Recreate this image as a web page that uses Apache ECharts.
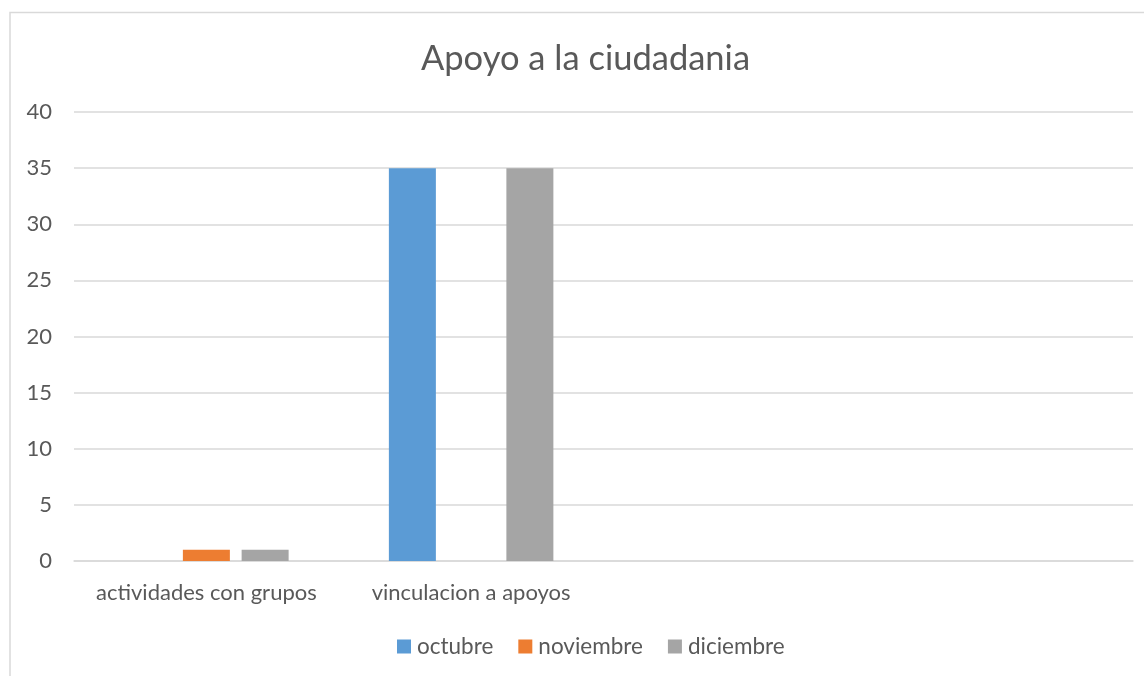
<!DOCTYPE html>
<html lang="es">
<head>
<meta charset="UTF-8">
<title>Apoyo a la ciudadania</title>
<script src="https://cdn.jsdelivr.net/npm/echarts@6/dist/echarts.min.js"></script>
<style>
html, body { margin: 0; padding: 0; background: #ffffff; }
#chart { width: 1144px; height: 676px; }
</style>
</head>
<body>
<div id="chart"></div>
<script>
// data
const categories = ['actividades con grupos', 'vinculacion a apoyos', '', ''];
const octubre = [0, 35, null, null];
const noviembre = [1, 0, null, null];
const diciembre = [1, 35, null, null];
const yTicks = [0, 5, 10, 15, 20, 25, 30, 35, 40];

const font = 'Lato';
const textColor = '#595959';
const lineColor = '#d9d9d9';

const chart = echarts.init(document.getElementById('chart'));

function barSeries(name, data, color) {
return {
name: name,
type: 'bar',
data: data,
barWidth: 47,
barGap: '25%',
itemStyle: { color: color }
};
}

chart.setOption({
animation: false,
backgroundColor: '#ffffff',
graphic: [{
type: 'rect',
shape: { x: 10, y: 12.5, width: 1200, height: 700 },
style: { fill: 'none', stroke: lineColor, lineWidth: 1.5 },
silent: true
}],
title: {
text: 'Apoyo a la ciudadania',
left: 416,
top: 36,
textStyle: {
fontFamily: font,
fontSize: 34.5,
fontWeight: 'normal',
color: textColor
}
},
legend: {
bottom: 13,
left: 392,
itemWidth: 14,
itemHeight: 14,
itemGap: 25,
icon: 'rect',
textStyle: { fontFamily: font, fontSize: 22.5, color: textColor, padding: [0, 0, 0, 1] }
},
grid: { left: 74, right: 11, top: 112, bottom: 115 },
xAxis: {
type: 'category',
data: categories,
axisTick: { show: false },
axisLine: { lineStyle: { color: lineColor, width: 1.5 } },
axisLabel: { interval: 0, fontFamily: font, fontSize: 22, color: textColor, margin: 21 }
},
yAxis: {
type: 'value',
min: yTicks[0],
max: yTicks[yTicks.length - 1],
interval: yTicks[1] - yTicks[0],
axisLine: { show: false },
axisTick: { show: false },
axisLabel: { fontFamily: font, fontSize: 22, color: textColor, margin: 22 },
splitLine: { lineStyle: { color: lineColor, width: 1.5 } }
},
series: [
barSeries('octubre', octubre, '#5b9bd5'),
barSeries('noviembre', noviembre, '#ed7d31'),
barSeries('diciembre', diciembre, '#a5a5a5')
]
});
</script>
</body>
</html>
